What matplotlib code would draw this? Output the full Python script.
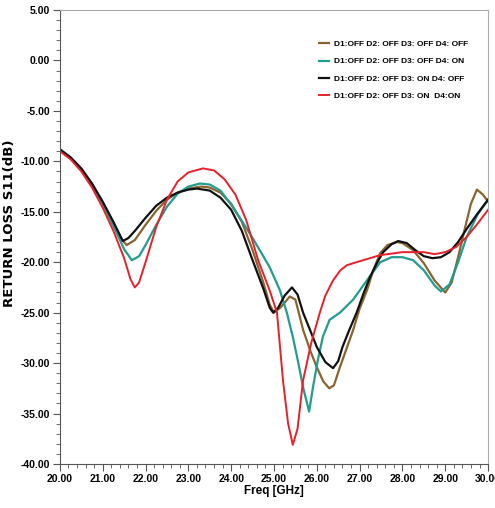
import matplotlib
matplotlib.use('Agg')
import matplotlib.pyplot as plt
from matplotlib.ticker import MultipleLocator, FormatStrFormatter

# D1:OFF D2: OFF D3: OFF D4: OFF (brown)
f_brown = [20.0, 20.25, 20.5, 20.75, 21.0, 21.25, 21.4, 21.56, 21.75, 22.0, 22.25, 22.5, 22.75,
           23.0, 23.3, 23.5, 23.75, 24.0, 24.25, 24.5, 24.75, 24.9, 25.0, 25.15, 25.37, 25.5,
           25.68, 25.85, 26.0, 26.15, 26.29, 26.4, 26.54, 26.7, 26.85, 27.0, 27.17, 27.32,
           27.48, 27.65, 27.87, 28.0, 28.25, 28.5, 28.75, 29.0, 29.15, 29.3, 29.45, 29.6,
           29.74, 29.88, 30.0]
s_brown = [-8.9, -9.7, -10.8, -12.3, -14.1, -16.2, -17.5, -18.3, -17.8, -16.3, -14.9, -13.8, -13.1,
           -12.7, -12.5, -12.6, -13.1, -14.2, -16.0, -18.8, -22.0, -24.2, -25.0, -24.5, -23.4, -23.7,
           -26.7, -28.8, -30.4, -31.8, -32.5, -32.2, -30.4, -28.5, -26.7, -24.6, -22.8, -20.8,
           -19.1, -18.3, -18.0, -18.1, -18.8, -20.1, -21.8, -23.0, -22.0, -19.5, -16.8, -14.2,
           -12.8, -13.3, -14.0]

# D1:OFF D2: OFF D3: OFF D4: ON (teal)
f_teal = [20.0, 20.25, 20.5, 20.75, 21.0, 21.25, 21.5, 21.68, 21.85, 22.0, 22.25, 22.5, 22.75,
          23.0, 23.27, 23.5, 23.75, 24.0, 24.25, 24.5, 24.75, 24.9, 25.14, 25.3, 25.44, 25.56,
          25.68, 25.82, 25.91, 26.02, 26.14, 26.3, 26.54, 26.85, 27.17, 27.48, 27.75, 28.0,
          28.25, 28.5, 28.75, 28.9, 29.1, 29.3, 29.5, 29.75, 30.0]
s_teal = [-8.9, -9.7, -10.8, -12.3, -14.2, -16.4, -18.7, -19.8, -19.4, -18.3, -16.3, -14.5, -13.2,
          -12.5, -12.2, -12.3, -12.9, -14.3, -15.9, -17.6, -19.4, -20.5, -22.8, -25.0, -27.4, -29.8,
          -32.4, -34.8, -32.4, -29.8, -27.4, -25.7, -25.0, -23.7, -21.8, -20.0, -19.5, -19.5,
          -19.8, -20.8, -22.3, -22.9, -22.2, -20.0, -17.5, -15.3, -13.8]

# D1:OFF D2: OFF D3: ON D4: OFF (black)
f_black = [20.0, 20.25, 20.5, 20.75, 21.0, 21.25, 21.47, 21.6, 21.75, 22.0, 22.25, 22.5, 22.75,
           23.0, 23.2, 23.5, 23.75, 24.0, 24.25, 24.5, 24.75, 24.9, 24.98, 25.1, 25.25, 25.42,
           25.55, 25.68, 25.85, 26.0, 26.2, 26.38, 26.5, 26.6, 26.75, 26.93, 27.1, 27.24, 27.4,
           27.55, 27.75, 27.9, 28.1, 28.3, 28.5, 28.7, 28.9, 29.1, 29.3, 29.5, 29.75, 30.0]
s_black = [-8.8, -9.6, -10.7, -12.2, -14.0, -16.0, -17.9, -17.6, -16.9, -15.6, -14.4, -13.6, -13.1,
           -12.8, -12.7, -12.9, -13.6, -14.8, -16.9, -19.8, -22.6, -24.5, -25.0, -24.5, -23.3, -22.5,
           -23.2, -25.0, -26.8, -28.4, -29.9, -30.5, -29.8, -28.4, -26.8, -25.0, -23.0, -21.5, -20.1,
           -19.0, -18.2, -17.9, -18.1, -18.8, -19.4, -19.6, -19.5, -19.0, -18.0, -16.7, -15.2, -13.8]

# D1:OFF D2: OFF D3: ON  D4:ON (red)
f_red = [20.0, 20.25, 20.5, 20.75, 21.0, 21.25, 21.5, 21.65, 21.75, 21.85, 22.0, 22.25, 22.5,
         22.75, 23.0, 23.34, 23.6, 23.85, 24.1, 24.35, 24.63, 24.9, 25.07, 25.21, 25.33, 25.44,
         25.55, 25.68, 25.87, 26.07, 26.2, 26.38, 26.55, 26.7, 27.0, 27.48, 28.0, 28.5, 28.75,
         29.0, 29.25, 29.5, 29.75, 30.0]
s_red = [-9.0, -9.8, -11.0, -12.6, -14.6, -16.9, -19.6, -21.7, -22.5, -22.0, -20.0, -16.5, -13.8,
         -12.0, -11.1, -10.7, -10.9, -11.8, -13.3, -15.8, -19.8, -22.8, -25.0, -31.7, -36.0, -38.1,
         -36.5, -31.7, -28.0, -25.0, -23.3, -21.8, -20.8, -20.3, -19.9, -19.3, -19.0, -19.0, -19.2,
         -19.0, -18.5, -17.5, -16.2, -14.8]

labels = ['D1:OFF D2: OFF D3: OFF D4: OFF', 'D1:OFF D2: OFF D3: OFF D4: ON',
          'D1:OFF D2: OFF D3: ON D4: OFF', 'D1:OFF D2: OFF D3: ON  D4:ON']

plt.rcParams['font.family'] = ['Liberation Sans Narrow', 'Liberation Sans', 'DejaVu Sans']

fig = plt.figure(figsize=(4.95, 5.08), dpi=100)
ax = fig.add_axes([0.121, 0.0866, 0.865, 0.8937])

ax.plot(f_brown, s_brown, color='#8a6330', lw=1.6, label=labels[0])
ax.plot(f_teal, s_teal, color='#219c8e', lw=1.6, label=labels[1])
ax.plot(f_black, s_black, color='#111111', lw=1.6, label=labels[2])
ax.plot(f_red, s_red, color='#e8202a', lw=1.4, label=labels[3])

ax.set_xlim(20, 30)
ax.set_ylim(-40, 5)
ax.xaxis.set_major_locator(MultipleLocator(1))
ax.xaxis.set_minor_locator(MultipleLocator(0.2))
ax.yaxis.set_major_locator(MultipleLocator(5))
ax.yaxis.set_minor_locator(MultipleLocator(1))
ax.xaxis.set_major_formatter(FormatStrFormatter('%.2f'))
ax.yaxis.set_major_formatter(FormatStrFormatter('%.2f'))
ax.tick_params(which='major', length=5, width=0.8, labelsize=7.5, color='#555555', pad=2)
ax.tick_params(which='minor', length=3, width=0.6, color='#555555')
for t in ax.get_xticklabels() + ax.get_yticklabels():
    t.set_fontweight('bold')

for side in ['left', 'bottom']:
    ax.spines[side].set_color('#555555')
for side in ['top', 'right']:
    ax.spines[side].set_color('#aaaaaa')

ax.set_xlabel('Freq [GHz]', fontsize=8.5, fontweight='bold', labelpad=1)
ax.set_ylabel('RETURN LOSS S11(dB)', fontsize=9.5, fontweight='bold',
              family=['DejaVu Sans'])
ax.yaxis.set_label_coords(-0.103, 0.53)

leg = ax.legend(loc='upper right', bbox_to_anchor=(0.97, 0.95), frameon=False,
                fontsize=6, handlelength=1.2, labelspacing=1.15, handletextpad=0.6)
for t in leg.get_texts():
    t.set_fontweight('bold')

fig.savefig('out.png', dpi=100)
